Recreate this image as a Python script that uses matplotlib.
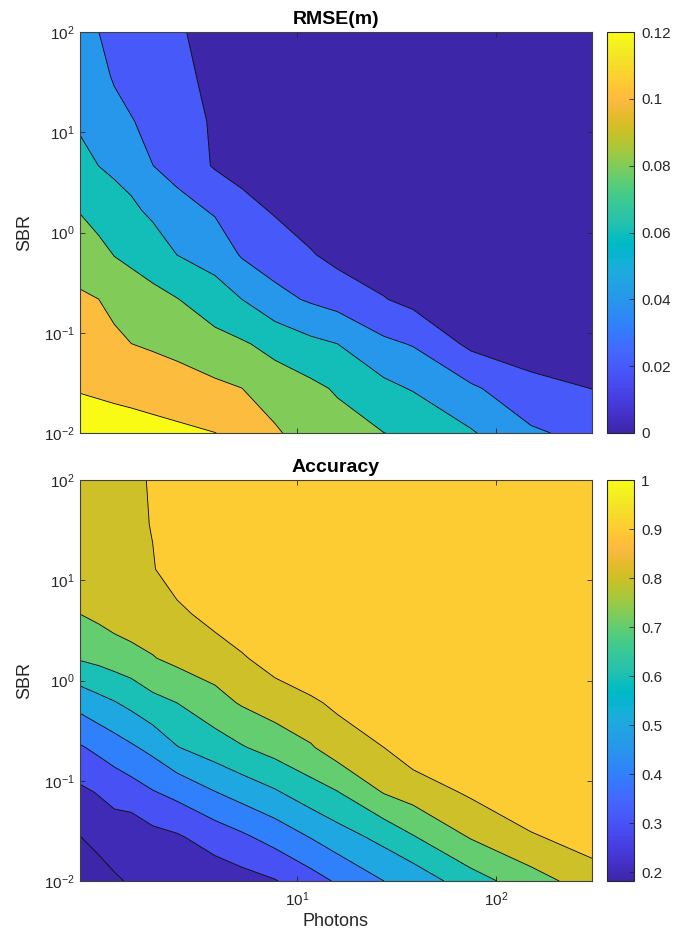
import numpy as np
import matplotlib
matplotlib.use('Agg')
import matplotlib.pyplot as plt
from matplotlib.colors import LinearSegmentedColormap, Normalize
from matplotlib.cm import ScalarMappable
from matplotlib.ticker import FuncFormatter

plt.rcParams['font.family'] = ['Liberation Sans', 'DejaVu Sans']
plt.rcParams['mathtext.fontset'] = 'custom'
plt.rcParams['mathtext.rm'] = 'Liberation Sans'
plt.rcParams['mathtext.it'] = 'Liberation Sans:italic'
plt.rcParams['mathtext.bf'] = 'Liberation Sans:bold'

# ---------------- data ----------------
photons = [0.806, 1.0, 1.2, 1.46, 1.87, 2.48, 3.85, 5.25, 7.72, 11.7,
           15.9, 27.3, 38.2, 74.8, 150, 304]
sbr = [0.01, 0.0278, 0.0774, 0.215, 0.599, 1.67, 4.64, 12.9, 35.9, 100]

# rows follow sbr (ascending), columns follow photons
rmse = [
    [0.1274, 0.1269, 0.1272, 0.1278, 0.1260, 0.1239, 0.1202, 0.1163, 0.1027, 0.0900, 0.0880, 0.0801, 0.0784, 0.0619, 0.0428, 0.0340],
    [0.1191, 0.1179, 0.1163, 0.1139, 0.1117, 0.1089, 0.1040, 0.1002, 0.0900, 0.0845, 0.0779, 0.0651, 0.0586, 0.0432, 0.0262, 0.0198],
    [0.1108, 0.1090, 0.1054, 0.1001, 0.0976, 0.0944, 0.0868, 0.0822, 0.0742, 0.0647, 0.0601, 0.0439, 0.0388, 0.0156, 0.0095, 0.0070],
    [0.1026, 0.1001, 0.0931, 0.0884, 0.0851, 0.0807, 0.0688, 0.0601, 0.0460, 0.0376, 0.0324, 0.0209, 0.0145, 0.0090, 0.0060, 0.0050],
    [0.0914, 0.0858, 0.0795, 0.0764, 0.0712, 0.0599, 0.0524, 0.0383, 0.0304, 0.0215, 0.0142, 0.0090, 0.0080, 0.0060, 0.0050, 0.0050],
    [0.0790, 0.0725, 0.0676, 0.0637, 0.0560, 0.0473, 0.0378, 0.0260, 0.0182, 0.0100, 0.0090, 0.0070, 0.0060, 0.0050, 0.0050, 0.0040],
    [0.0666, 0.0599, 0.0566, 0.0522, 0.0402, 0.0330, 0.0182, 0.0137, 0.0100, 0.0080, 0.0070, 0.0060, 0.0050, 0.0050, 0.0040, 0.0040],
    [0.0570, 0.0533, 0.0473, 0.0411, 0.0340, 0.0290, 0.0175, 0.0120, 0.0090, 0.0070, 0.0060, 0.0050, 0.0050, 0.0040, 0.0040, 0.0040],
    [0.0505, 0.0466, 0.0379, 0.0324, 0.0280, 0.0263, 0.0140, 0.0100, 0.0080, 0.0060, 0.0050, 0.0050, 0.0050, 0.0040, 0.0040, 0.0040],
    [0.0440, 0.0402, 0.0286, 0.0240, 0.0220, 0.0227, 0.0120, 0.0090, 0.0070, 0.0060, 0.0050, 0.0050, 0.0050, 0.0040, 0.0040, 0.0040],
]

accuracy = [
    [0.120, 0.156, 0.187, 0.210, 0.235, 0.220, 0.240, 0.262, 0.294, 0.359, 0.4116, 0.5001, 0.536, 0.656, 0.758, 0.849],
    [0.1992, 0.2304, 0.2516, 0.235, 0.270, 0.290, 0.345, 0.384, 0.439, 0.506, 0.5565, 0.6315, 0.695, 0.809, 0.8895, 0.949],
    [0.2811, 0.3067, 0.330, 0.355, 0.3943, 0.429, 0.498, 0.540, 0.590, 0.656, 0.697, 0.807, 0.844, 0.916, 0.990, 1.000],
    [0.3906, 0.423, 0.455, 0.4867, 0.5274, 0.596, 0.651, 0.6925, 0.738, 0.791, 0.850, 0.9001, 0.956, 0.990, 1.000, 1.000],
    [0.5333, 0.569, 0.594, 0.625, 0.6706, 0.7001, 0.765, 0.809, 0.849, 0.885, 0.9175, 0.985, 0.990, 1.000, 1.000, 1.000],
    [0.7092, 0.726, 0.745, 0.762, 0.795, 0.825, 0.853, 0.890, 0.940, 0.977, 0.990, 1.000, 1.000, 1.000, 1.000, 1.000],
    [0.8009, 0.822, 0.845, 0.866, 0.8575, 0.8797, 0.933, 0.965, 0.975, 0.990, 0.995, 1.000, 1.000, 1.000, 1.000, 1.000],
    [0.817, 0.835, 0.857, 0.872, 0.894, 0.945, 0.960, 0.985, 0.990, 0.995, 1.000, 1.000, 1.000, 1.000, 1.000, 1.000],
    [0.833, 0.848, 0.866, 0.878, 0.9041, 0.960, 0.975, 0.993, 0.998, 1.000, 1.000, 1.000, 1.000, 1.000, 1.000, 1.000],
    [0.850, 0.860, 0.875, 0.885, 0.9063, 0.975, 0.985, 0.998, 1.000, 1.000, 1.000, 1.000, 1.000, 1.000, 1.000, 1.000],
]

rmse_levels = [0.02, 0.04, 0.06, 0.08, 0.10, 0.12]
acc_levels = [0.2, 0.3, 0.4, 0.5, 0.6, 0.7, 0.8, 0.9]
rmse_clim = (0.0, 0.12)
acc_clim = (0.182, 1.0)
rmse_cticks = [0, 0.02, 0.04, 0.06, 0.08, 0.1, 0.12]
rmse_clabels = ['0', '0.02', '0.04', '0.06', '0.08', '0.1', '0.12']
acc_cticks = [0.2, 0.3, 0.4, 0.5, 0.6, 0.7, 0.8, 0.9, 1.0]
acc_clabels = ['0.2', '0.3', '0.4', '0.5', '0.6', '0.7', '0.8', '0.9', '1']
x_ticks = [10, 100]
y_ticks = [0.01, 0.1, 1, 10, 100]

# ---------------- style ----------------
PARULA = [
    (0.2422, 0.1504, 0.6603), (0.2504, 0.1650, 0.7076), (0.2578, 0.1818, 0.7511), (0.2647, 0.1978, 0.7952),
    (0.2706, 0.2147, 0.8364), (0.2751, 0.2342, 0.8710), (0.2783, 0.2559, 0.8991), (0.2803, 0.2782, 0.9221),
    (0.2813, 0.3006, 0.9414), (0.2810, 0.3228, 0.9579), (0.2795, 0.3447, 0.9717), (0.2760, 0.3667, 0.9829),
    (0.2699, 0.3892, 0.9906), (0.2602, 0.4123, 0.9952), (0.2440, 0.4358, 0.9988), (0.2206, 0.4603, 0.9973),
    (0.1963, 0.4847, 0.9892), (0.1834, 0.5074, 0.9798), (0.1786, 0.5289, 0.9682), (0.1764, 0.5499, 0.9520),
    (0.1687, 0.5703, 0.9359), (0.1540, 0.5902, 0.9218), (0.1460, 0.6091, 0.9079), (0.1380, 0.6276, 0.8973),
    (0.1248, 0.6459, 0.8883), (0.1113, 0.6635, 0.8763), (0.0952, 0.6798, 0.8598), (0.0689, 0.6948, 0.8394),
    (0.0297, 0.7082, 0.8163), (0.0036, 0.7203, 0.7917), (0.0067, 0.7312, 0.7660), (0.0433, 0.7411, 0.7394),
    (0.0964, 0.7500, 0.7120), (0.1408, 0.7584, 0.6842), (0.1717, 0.7670, 0.6554), (0.1938, 0.7758, 0.6251),
    (0.2161, 0.7843, 0.5923), (0.2470, 0.7918, 0.5567), (0.2906, 0.7973, 0.5188), (0.3406, 0.8008, 0.4789),
    (0.3909, 0.8029, 0.4354), (0.4456, 0.8024, 0.3909), (0.5044, 0.7993, 0.3480), (0.5616, 0.7942, 0.3045),
    (0.6174, 0.7876, 0.2612), (0.6720, 0.7793, 0.2227), (0.7242, 0.7698, 0.1910), (0.7738, 0.7598, 0.1646),
    (0.8203, 0.7498, 0.1535), (0.8634, 0.7406, 0.1596), (0.9035, 0.7330, 0.1774), (0.9393, 0.7288, 0.2100),
    (0.9728, 0.7298, 0.2394), (0.9956, 0.7434, 0.2371), (0.9970, 0.7659, 0.2199), (0.9952, 0.7893, 0.2028),
    (0.9892, 0.8136, 0.1885), (0.9786, 0.8386, 0.1766), (0.9676, 0.8639, 0.1643), (0.9610, 0.8890, 0.1537),
    (0.9597, 0.9135, 0.1423), (0.9628, 0.9373, 0.1265), (0.9691, 0.9606, 0.1064), (0.9769, 0.9839, 0.0805)]
parula = LinearSegmentedColormap.from_list('parula', PARULA, N=256)

TXT = '#262626'
W, H = 697, 933
fig = plt.figure(figsize=(W / 100, H / 100), dpi=100)


def fbox(x0, y0, x1, y1):
    return [x0 / W, 1 - y1 / H, (x1 - x0) / W, (y1 - y0) / H]


def pow_fmt(v, pos):
    return r'$\mathdefault{10^{%d}}$' % int(round(v))


lx = np.log10(np.array(photons))
ly = np.log10(np.array(sbr))


def panel(ax_rect, cb_rect, Z, levels, clim, cticks, clabels, title, show_xlabels):
    ax = fig.add_axes(fbox(*ax_rect))
    Z = np.array(Z)
    lo, hi = clim
    norm = Normalize(lo, hi)
    bounds = [min(lo, Z.min()) - 1.0] + list(levels) + [max(hi, Z.max()) + 1.0]
    fills = [parula(0.0)] + [parula(norm(l)) for l in levels]
    ax.contourf(lx, ly, Z, levels=bounds, colors=fills, antialiased=True)
    ax.contour(lx, ly, Z, levels=levels, colors='k', linewidths=0.6)
    ax.set_xlim(lx[0], lx[-1])
    ax.set_ylim(ly[0], ly[-1])
    ax.set_xticks(np.log10(x_ticks))
    ax.set_yticks(np.log10(y_ticks))
    ax.xaxis.set_major_formatter(FuncFormatter(pow_fmt))
    ax.yaxis.set_major_formatter(FuncFormatter(pow_fmt))
    ax.tick_params(direction='in', length=3.6, width=0.6, top=True, right=True,
                   labelsize=11, color=TXT, labelcolor=TXT)
    ax.tick_params(axis='x', pad=7)
    ax.tick_params(axis='y', pad=4)
    if not show_xlabels:
        ax.tick_params(axis='x', labelbottom=False)
    for s in ax.spines.values():
        s.set_color('#404040')
        s.set_linewidth(0.8)
    ax.set_title(title, fontsize=14, fontweight='bold', pad=6)
    ax.set_ylabel('SBR', fontsize=13, color=TXT)
    ax.yaxis.set_label_coords(-0.092, 0.5)

    cax = fig.add_axes(fbox(*cb_rect))
    cb = fig.colorbar(ScalarMappable(norm=norm, cmap=parula), cax=cax)
    cb.set_ticks(cticks)
    cb.set_ticklabels(clabels)
    cb.ax.tick_params(direction='in', length=3.6, width=0.6, labelsize=11,
                      color=TXT, labelcolor=TXT, pad=5)
    cb.outline.set_linewidth(0.8)
    cb.outline.set_edgecolor(TXT)
    return ax


ax1 = panel((80, 32, 592, 433), (607, 32, 634, 433), rmse, rmse_levels, rmse_clim,
            rmse_cticks, rmse_clabels, 'RMSE(m)', False)
ax2 = panel((80, 480, 592, 881), (607, 480, 634, 881), accuracy, acc_levels, acc_clim,
            acc_cticks, acc_clabels, 'Accuracy', True)
ax2.set_xlabel('Photons', fontsize=13, color=TXT)
ax2.xaxis.set_label_coords(0.5, -0.08)

fig.savefig('out.png', dpi=100)
